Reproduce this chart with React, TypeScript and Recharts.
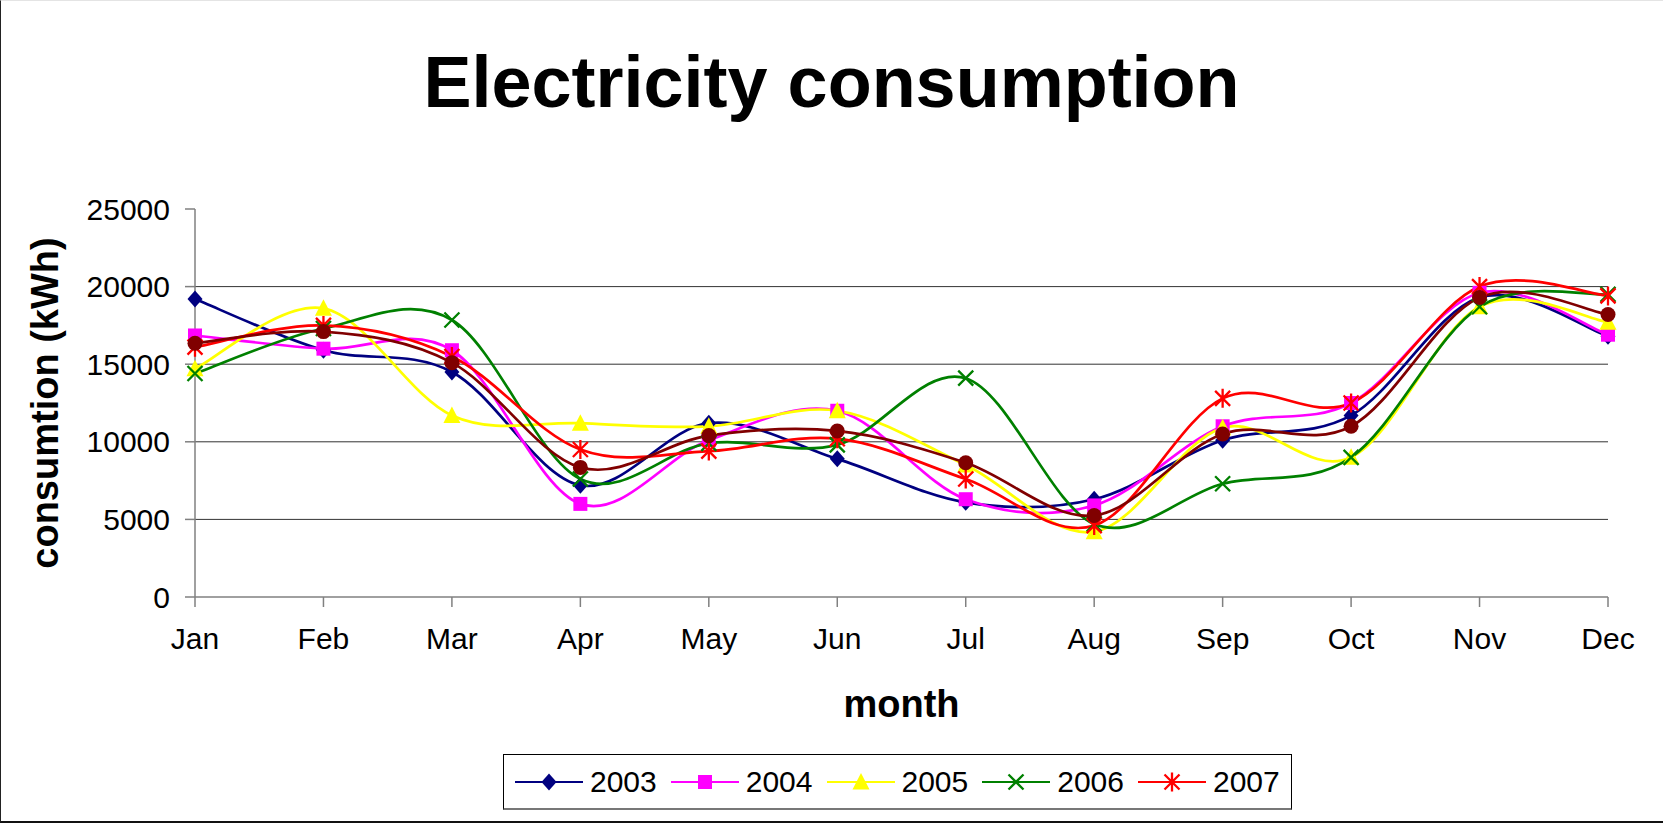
import React from 'react';
import {
  LineChart,
  Line,
  XAxis,
  YAxis,
  CartesianGrid,
  Legend,
} from 'recharts';

// Données (kWh par mois)
const months = ['Jan', 'Feb', 'Mar', 'Apr', 'May', 'Jun', 'Jul', 'Aug', 'Sep', 'Oct', 'Nov', 'Dec'];
const y2003 = [19200, 15900, 14500, 7200, 11200, 8900, 6100, 6300, 10100, 11700, 19300, 16800];
const y2004 = [16850, 16000, 15900, 6000, 10100, 12000, 6300, 5900, 11000, 12500, 19600, 16900];
const y2005 = [14700, 18600, 11700, 11200, 11000, 12000, 8500, 4200, 10900, 9000, 18700, 17700];
const y2006 = [14400, 17300, 17850, 7600, 9900, 9800, 14100, 4700, 7300, 9000, 18700, 19500];
const y2007 = [16100, 17500, 15500, 9500, 9400, 10200, 7600, 4600, 12800, 12500, 20000, 19400];
const yAvg = [16350, 17100, 15100, 8350, 10400, 10700, 8650, 5250, 10500, 11000, 19300, 18200];
const yTicks = [0, 5000, 10000, 15000, 20000, 25000];
const gridValues = [5000, 10000, 15000, 20000];

const FONT = '"Liberation Sans", Arial, Helvetica, sans-serif';

type Shape = 'diamond' | 'square' | 'triangle' | 'cross' | 'star' | 'circle';

const series: { key: string; name: string; color: string; shape: Shape; legend: boolean }[] = [
  { key: 'y2003', name: '2003', color: '#000080', shape: 'diamond', legend: true },
  { key: 'y2004', name: '2004', color: '#FF00FF', shape: 'square', legend: true },
  { key: 'y2005', name: '2005', color: '#FFFF00', shape: 'triangle', legend: true },
  { key: 'y2006', name: '2006', color: '#008000', shape: 'cross', legend: true },
  { key: 'y2007', name: '2007', color: '#FF0000', shape: 'star', legend: true },
  { key: 'avg', name: 'average', color: '#800000', shape: 'circle', legend: false },
];

const data = months.map((m, i) => ({
  month: m,
  y2003: y2003[i],
  y2004: y2004[i],
  y2005: y2005[i],
  y2006: y2006[i],
  y2007: y2007[i],
  avg: yAvg[i],
}));

// lissage façon Excel (Bézier, tangentes 1/6)
const excelSmooth = (context: any) => {
  let pts: number[][] = [];
  return {
    areaStart() {},
    areaEnd() {},
    lineStart() {
      pts = [];
    },
    lineEnd() {
      if (!pts.length) return;
      context.moveTo(pts[0][0], pts[0][1]);
      for (let i = 0; i < pts.length - 1; i++) {
        const p0 = pts[i - 1] || pts[i];
        const p1 = pts[i];
        const p2 = pts[i + 1];
        const p3 = pts[i + 2] || p2;
        context.bezierCurveTo(
          p1[0] + (p2[0] - p0[0]) / 6,
          p1[1] + (p2[1] - p0[1]) / 6,
          p2[0] - (p3[0] - p1[0]) / 6,
          p2[1] - (p3[1] - p1[1]) / 6,
          p2[0],
          p2[1]
        );
      }
    },
    point(x: number, y: number) {
      pts.push([+x, +y]);
    },
  };
};

const Marker = ({ shape, color, cx, cy }: { shape: Shape; color: string; cx: number; cy: number }) => {
  switch (shape) {
    case 'diamond':
      return <polygon points={`${cx},${cy - 8.5} ${cx + 7.5},${cy} ${cx},${cy + 8.5} ${cx - 7.5},${cy}`} fill={color} />;
    case 'square':
      return <rect x={cx - 7} y={cy - 7} width={14} height={14} fill={color} />;
    case 'triangle':
      return <polygon points={`${cx},${cy - 9} ${cx + 8.5},${cy + 7.5} ${cx - 8.5},${cy + 7.5}`} fill={color} />;
    case 'cross':
      return (
        <path
          d={`M${cx - 7.5},${cy - 7.5}L${cx + 7.5},${cy + 7.5}M${cx - 7.5},${cy + 7.5}L${cx + 7.5},${cy - 7.5}`}
          stroke={color}
          strokeWidth={2.3}
          fill="none"
        />
      );
    case 'star':
      return (
        <path
          d={`M${cx - 7.5},${cy - 7.5}L${cx + 7.5},${cy + 7.5}M${cx - 7.5},${cy + 7.5}L${cx + 7.5},${cy - 7.5}M${cx},${cy - 9.5}L${cx},${cy + 9.5}`}
          stroke={color}
          strokeWidth={2.3}
          fill="none"
        />
      );
    default:
      return <circle cx={cx} cy={cy} r={7.5} fill={color} />;
  }
};

const renderLegend = (props: any) => {
  const items = (props.payload || []).filter((p: any) => series.some((s) => s.name === p.value && s.legend));
  return (
    <div
      style={{
        display: 'flex',
        alignItems: 'center',
        height: 56,
        boxSizing: 'border-box',
        padding: '0 11px',
        border: '1px solid #000',
        borderBottom: '2px solid #777',
        background: '#fff',
        fontFamily: FONT,
        fontSize: 30,
        color: '#000',
      }}
    >
      {items.map((entry: any, i: number) => {
        const s = series.find((x) => x.name === entry.value)!;
        return (
          <div key={s.key} style={{ display: 'flex', alignItems: 'center', marginRight: i < items.length - 1 ? 14 : 0 }}>
            <svg width={68} height={24} style={{ display: 'block' }}>
              <line x1={0} y1={12} x2={68} y2={12} stroke={s.color} strokeWidth={2} />
              <Marker shape={s.shape} color={s.color} cx={34} cy={12} />
            </svg>
            <span style={{ marginLeft: 7, lineHeight: '30px' }}>{entry.value}</span>
          </div>
        );
      })}
    </div>
  );
};

export default function App() {
  return (
    <div style={{ position: 'absolute', left: 0, top: 0, width: 1663, height: 823, background: '#fff' }}>
      <div
        style={{
          position: 'absolute',
          left: 0,
          top: 0,
          width: 1663,
          height: 823,
          boxSizing: 'border-box',
          borderLeft: '1px solid #222',
          borderTop: '1px solid #e4e4e4',
          borderBottom: '2px solid #111',
        }}
      />
      <div
        style={{
          position: 'absolute',
          left: 0,
          top: 46,
          width: 1663,
          textAlign: 'center',
          fontFamily: FONT,
          fontWeight: 'bold',
          fontSize: 72,
          lineHeight: '72px',
          color: '#000',
        }}
      >
        Electricity consumption
      </div>
      <div style={{ position: 'absolute', left: 0, top: 0 }}>
        <LineChart width={1663} height={823} data={data} margin={{ top: 209, right: 55, bottom: 106, left: 0 }}>
          <CartesianGrid horizontal vertical={false} horizontalValues={gridValues} stroke="#333" strokeWidth={1} />
          <XAxis
            dataKey="month"
            height={120}
            axisLine={{ stroke: '#808080', strokeWidth: 1.5 }}
            tickLine={{ stroke: '#808080', strokeWidth: 1.5 }}
            tickSize={10}
            tickMargin={21}
            interval={0}
            tick={{ fill: '#000', fontSize: 30, fontFamily: FONT }}
            label={{
              value: 'month',
              position: 'insideTop',
              offset: 93,
              style: { fontSize: 38, fontWeight: 'bold', fill: '#000', fontFamily: FONT },
            }}
          />
          <YAxis
            width={195}
            domain={[0, 25000]}
            ticks={yTicks}
            interval={0}
            axisLine={{ stroke: '#808080', strokeWidth: 1.5 }}
            tickLine={{ stroke: '#808080', strokeWidth: 1.5 }}
            tickSize={10}
            tickMargin={15}
            tick={{ fill: '#000', fontSize: 30, fontFamily: FONT }}
            label={{
              value: 'consumtion (kWh)',
              angle: -90,
              position: 'insideLeft',
              offset: 45,
              style: { textAnchor: 'middle', fontSize: 38, fontWeight: 'bold', fill: '#000', fontFamily: FONT },
            }}
          />
          <Legend
            layout="horizontal"
            verticalAlign="middle"
            align="center"
            content={renderLegend}
            wrapperStyle={{ left: 503, top: 754, width: 'auto', height: 'auto' }}
          />
          {series.map((s) => (
            <Line
              key={s.key}
              dataKey={s.key}
              name={s.name}
              type={excelSmooth as any}
              stroke={s.color}
              strokeWidth={2.7}
              legendType={s.legend ? 'line' : 'none'}
              activeDot={false}
              isAnimationActive={false}
              dot={(p: any) => <Marker key={`${s.key}-${p.index}`} shape={s.shape} color={s.color} cx={p.cx} cy={p.cy} />}
            />
          ))}
        </LineChart>
      </div>
    </div>
  );
}
